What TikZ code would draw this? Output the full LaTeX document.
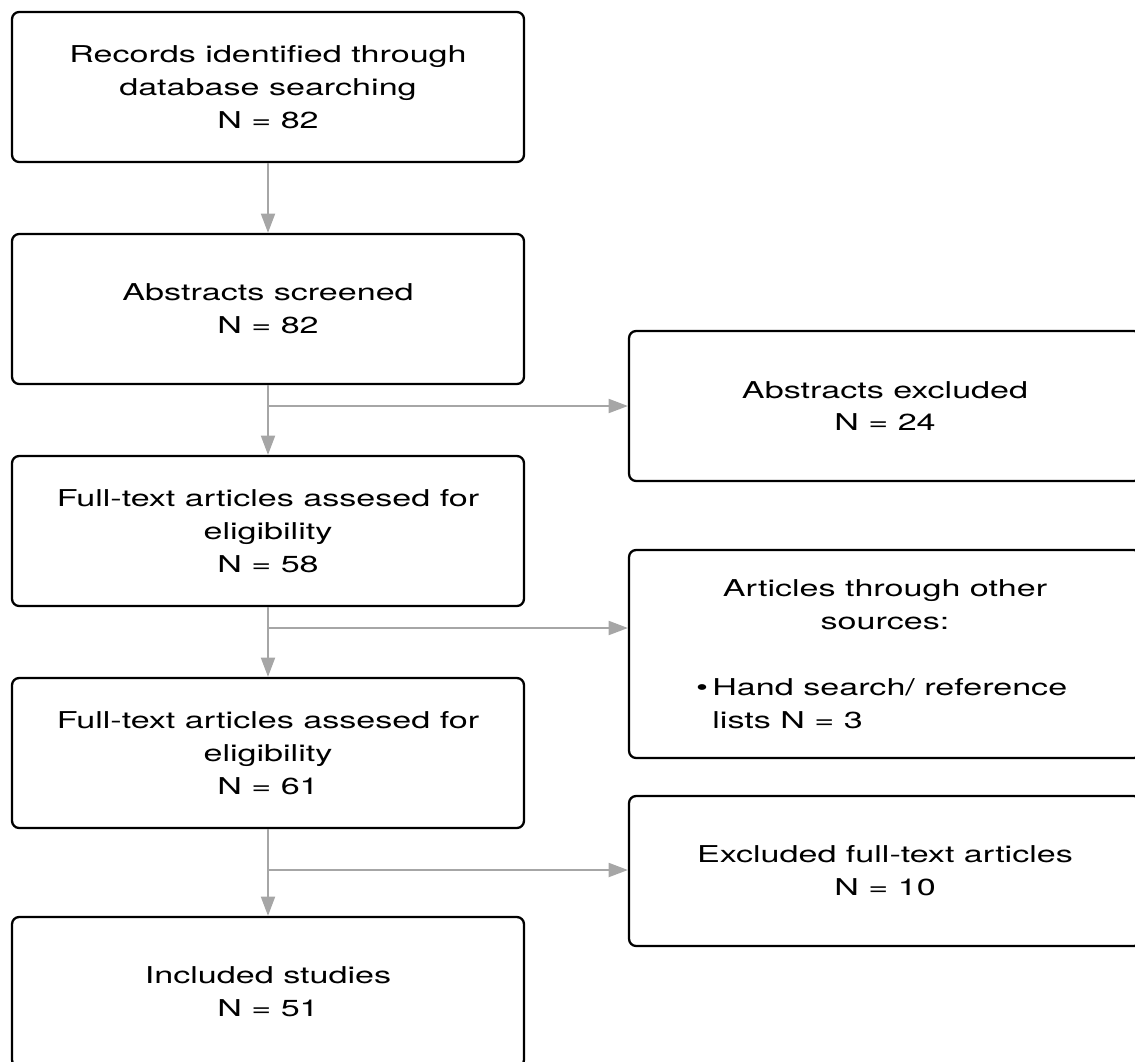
\documentclass[tikz,border=0pt]{standalone}
\usepackage{fontspec}
\setmainfont{TeX Gyre Heros}[FakeStretch=1.47]
\usetikzlibrary{arrows.meta,positioning}
\definecolor{arrowgray}{RGB}{166,166,166}
\tikzset
{
    record/.style = {rectangle, draw=black, line width=1.3pt, rounded corners=4pt, minimum width=10.24cm, minimum height=3cm, align=center, font=\fontsize{13.2}{18.7}\selectfont},
    flow/.style   = {draw=arrowgray, line width=1.1pt, -{Triangle[length=11pt,width=8pt]}}
}

\begin{document}
\begin{tikzpicture}[x=0.02cm, y=-0.02cm]

   \newcommand\ROWDY{222}
   \newcommand\LASTDY{239}

   \useasboundingbox (0,0) rectangle (1135,1061);
   \clip (0,0) rectangle (1135,1061);

   % left column
   \node (rec)  [record]  at (268, 87)                          {Records identified through\\ database searching\\ N = 82};
   \node (abs)  [record]  at ([shift=({0, \ROWDY})]rec)         {Abstracts screened\\ N = 82};
   \node (fta)  [record]  at ([shift=({0, \ROWDY})]abs)         {Full-text articles assesed for\\ eligibility\\ N = 58};
   \node (ftb)  [record]  at ([shift=({0, \ROWDY})]fta)         {Full-text articles assesed for\\ eligibility\\ N = 61};
   \node (inc)  [record]  at ([shift=({0, \LASTDY})]ftb)        {Included studies\\ N = 51};

   % right column
   \node (absx) [record]  at (885, 406)                         {Abstracts excluded\\ N = 24};
   \node (oth)  [record, minimum height=4.16cm] at (885, 654)   {Articles through other\\ sources:\\[18.7pt]
                                                                  \makebox[7.56cm][l]{\textbullet\hspace{2.5pt}Hand search/ reference}\\
                                                                  \makebox[7.56cm][l]{\phantom{\textbullet}\hspace{2.5pt}lists N = 3}};
   \node (ftx)  [record]  at (885, 871)                         {Excluded full-text articles\\ N = 10};

   \coordinate (j1) at (268, 406);
   \coordinate (j2) at (268, 628);
   \coordinate (j3) at (268, 870);

   \path
      (rec.south)  edge[flow]  (abs.north)
      (abs.south)  edge[flow]  (fta.north)
      (fta.south)  edge[flow]  (ftb.north)
      (ftb.south)  edge[flow]  (inc.north)
      (j1)         edge[flow]  (absx.west |- j1)
      (j2)         edge[flow]  (oth.west |- j2)
      (j3)         edge[flow]  (ftx.west |- j3);
\end{tikzpicture}
\end{document}
